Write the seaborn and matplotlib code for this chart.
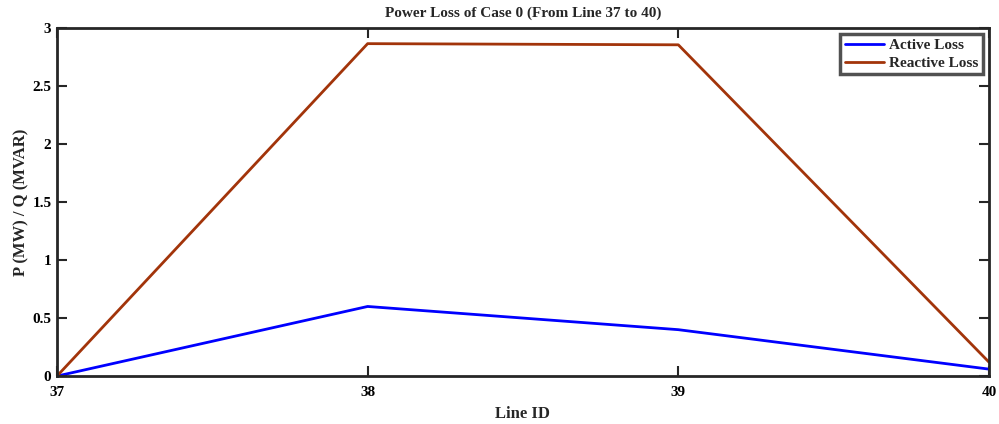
import pandas as pd
import matplotlib.pyplot as plt
import seaborn as sns

# dados
linhas = [37, 38, 39, 40]
perda_ativa = [0.0, 0.60, 0.40, 0.06]
perda_reativa = [0.0, 2.865, 2.855, 0.12]

sns.set_style("white")
plt.rcParams['font.family'] = ['Liberation Serif', 'DejaVu Serif']
plt.rcParams['font.weight'] = 'bold'

df = pd.DataFrame({
    'Line ID': linhas * 2,
    'Loss': perda_ativa + perda_reativa,
    'Tipo': ['Active Loss'] * 4 + ['Reactive Loss'] * 4,
})

fig = plt.figure(figsize=(9.99, 4.24), dpi=100)
ax = fig.add_axes([0.057, 0.113, 0.933, 0.821])
sns.lineplot(data=df, x='Line ID', y='Loss', hue='Tipo',
             palette={'Active Loss': '#0000FF', 'Reactive Loss': '#A2340A'},
             linewidth=2, ax=ax)

ax.set_xlim(37, 40)
ax.set_ylim(0, 3)
ax.set_xticks(linhas)
ax.set_yticks([0, 0.5, 1, 1.5, 2, 2.5, 3])
ax.set_yticklabels(['0', '0.5', '1', '1.5', '2', '2.5', '3'])
ax.tick_params(direction='in', length=7, width=1.5, top=True, right=True,
               bottom=True, left=True,
               labelsize=11, colors='#262626', labelcolor='black')
ax.tick_params(axis='x', pad=7)
ax.tick_params(axis='y', pad=4)
for lab in ax.get_xticklabels() + ax.get_yticklabels():
    lab.set_fontweight('bold')
for sp in ax.spines.values():
    sp.set_visible(True)
    sp.set_linewidth(2)
    sp.set_color('#262626')

ax.set_title('Power Loss of Case 0 (From Line 37 to 40)', fontsize=11, fontweight='bold', pad=8)
ax.set_xlabel('Line ID', fontsize=12, fontweight='bold', labelpad=5)
ax.set_ylabel('P (MW) / Q (MVAR)', fontsize=12, fontweight='bold', labelpad=2)

leg = ax.legend(loc='upper right', fontsize=11, frameon=True, fancybox=False,
                borderpad=0.3, handlelength=2.6, handletextpad=0.3, labelspacing=0.25,
                borderaxespad=0.4)
leg.get_frame().set_edgecolor('#262626')
leg.get_frame().set_linewidth(2.5)
for t in leg.get_texts():
    t.set_fontweight('bold')

fig.savefig('out.png', dpi=100)
plt.close()
